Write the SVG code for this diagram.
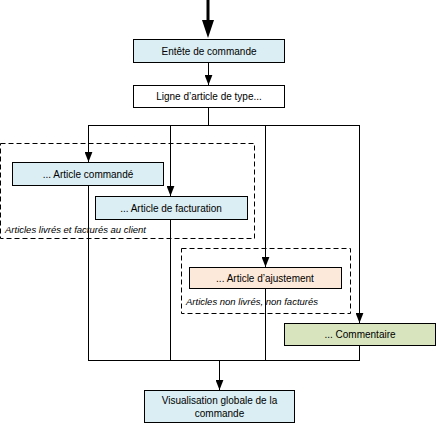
<svg xmlns="http://www.w3.org/2000/svg" width="436" height="424" viewBox="0 0 436 424">
<style>
.box{stroke:#000;stroke-width:1}
.blue{fill:#DAEEF3}
.white{fill:#fff}
.peach{fill:#FDE9D9}
.green{fill:#D7E4BD}
.dash{fill:none;stroke:#000;stroke-width:1;stroke-dasharray:5,3}
.t{font-family:"Liberation Sans",Arial,sans-serif;font-size:10px;fill:#000;text-anchor:middle}
.i{font-family:"Liberation Sans",Arial,sans-serif;font-size:9.5px;font-style:italic;fill:#000}
.c{fill:none;stroke:#000;stroke-width:1}
</style>
<defs>
<marker id="ah" markerWidth="10" markerHeight="8" refX="9" refY="3.5" orient="auto" markerUnits="userSpaceOnUse" viewBox="0 0 9 7">
<path d="M0,0 L9,3.5 L0,7 Z" fill="#000"/>
</marker>
</defs>
<rect width="436" height="424" fill="#fff"/>
<g id="group-livres">
<rect class="dash" x="0.5" y="143.5" width="254" height="95"/>
<text class="i" x="5" y="233">Articles livrés et facturés au client</text>
</g>
<g id="group-nonlivres">
<rect class="dash" x="181.5" y="248.5" width="169" height="65"/>
<text class="i" x="186" y="305">Articles non livrés, non facturés</text>
</g>
<g id="connectors">
<path d="M208,0 V22" stroke="#000" stroke-width="3" fill="none"/>
<path d="M202,20 L214,20 L208,38 Z" fill="#000"/>
<path class="c" d="M208.5,62 V85" marker-end="url(#ah)"/>
<path class="c" d="M208.5,107 V125.5"/>
<path class="c" d="M88.5,125.5 H359.5"/>
<path class="c" d="M88.5,125 V162" marker-end="url(#ah)"/>
<path class="c" d="M170.5,125 V196" marker-end="url(#ah)"/>
<path class="c" d="M265.5,125 V267" marker-end="url(#ah)"/>
<path class="c" d="M359.5,125 V323" marker-end="url(#ah)"/>
<path class="c" d="M88.5,185 V360.5"/>
<path class="c" d="M170.5,219 V360.5"/>
<path class="c" d="M265.5,288 V360.5"/>
<path class="c" d="M359.5,345 V360.5"/>
<path class="c" d="M88,360.5 H360"/>
<path class="c" d="M219.5,360 V390" marker-end="url(#ah)"/>
</g>
<g id="entete">
<rect class="box blue" x="133.5" y="39.5" width="151" height="23"/>
<text class="t" x="209" y="54.5">Entête de commande</text>
</g>
<g id="ligne">
<rect class="box white" x="133.5" y="85.5" width="151" height="22"/>
<text class="t" x="209" y="100">Ligne d’article de type...</text>
</g>
<g id="commande">
<rect class="box blue" x="12.5" y="162.5" width="151" height="23"/>
<text class="t" x="88" y="177.5">... Article commandé</text>
</g>
<g id="facturation">
<rect class="box blue" x="95.5" y="196.5" width="152" height="23"/>
<text class="t" x="171" y="211.5">... Article de facturation</text>
</g>
<g id="ajustement">
<rect class="box peach" x="189.5" y="267.5" width="152" height="21"/>
<text class="t" x="265" y="281.5">... Article d’ajustement</text>
</g>
<g id="commentaire">
<rect class="box green" x="284.5" y="323.5" width="151" height="22"/>
<text class="t" x="360" y="338">... Commentaire</text>
</g>
<g id="visualisation">
<rect class="box blue" x="144.5" y="390.5" width="150" height="32"/>
<text class="t" x="219.5" y="403.5">Visualisation globale de la</text>
<text class="t" x="219.5" y="416.5">commande</text>
</g>
</svg>
